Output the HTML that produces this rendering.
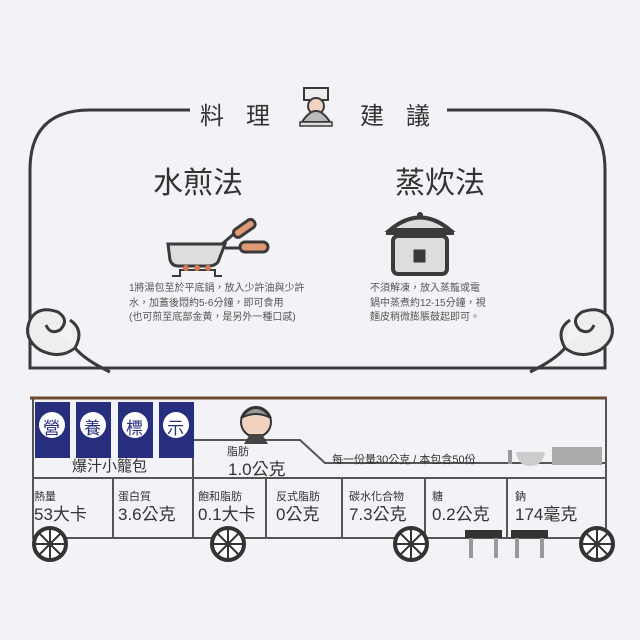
<!DOCTYPE html>
<html><head><meta charset="utf-8"><style>
body{margin:0;width:640px;height:640px;background:#f3f2f6;overflow:hidden;position:relative;font-family:"Liberation Sans","Noto Sans CJK TC",sans-serif;color:#333}
.t{position:absolute;white-space:nowrap}
</style></head><body>
<svg width="640" height="640" style="position:absolute;left:0;top:0">
<g fill="none" stroke="#3a3a3a" stroke-width="3">
<path d="M190 110 H90 Q30 110 30 170 V368 H605 V170 Q605 110 545 110 H447"/>
</g>
<!-- clouds -->
<g fill="#eee" stroke="#3a3a3a" stroke-width="3">
<path d="M110 372 Q85 360 75 348 Q60 360 40 350 Q22 338 30 320 Q38 305 58 312 Q70 320 60 330 Q50 335 46 325 M75 348 Q85 330 70 320"/>
<path d="M530 372 Q555 360 565 348 Q580 360 600 350 Q618 338 610 320 Q602 305 582 312 Q570 320 580 330 Q590 335 594 325 M565 348 Q555 330 570 320"/>
</g>
<!-- chef -->
<g><rect x="304" y="88" width="24" height="12" fill="#eee" stroke="#3a3a3a" stroke-width="2"/><circle cx="316" cy="106" r="8" fill="#f1d3c0" stroke="#3a3a3a" stroke-width="2"/><path d="M302 122 Q316 100 330 122Z" fill="#bbb" stroke="#3a3a3a" stroke-width="2"/><rect x="300" y="122" width="32" height="4" fill="#ddd" stroke="#3a3a3a" stroke-width="1.5"/></g>
<!-- pan -->
<g stroke="#3a3a3a" stroke-width="3"><path d="M168 244 H225 L218 262 Q215 266 208 266 H178 Q172 266 170 260Z" fill="#ddd"/>
<path d="M225 248 H240" /><rect x="240" y="242" width="28" height="10" rx="5" fill="#e19a73"/>
<path d="M222 244 L236 232"/><rect x="232" y="224" width="24" height="9" rx="4" fill="#e19a73" transform="rotate(-35 244 228)"/>
<path d="M172 276 H180 V270 H215 V276 H222" fill="none" stroke-width="2"/></g>
<circle cx="186" cy="268" r="3" fill="#d27a55"/><circle cx="197" cy="268" r="3" fill="#d27a55"/><circle cx="208" cy="268" r="3" fill="#d27a55"/>
<!-- cooker -->
<g stroke="#3a3a3a" stroke-width="4" fill="#ddd"><path d="M390 230 Q420 205 450 230Z"/><path d="M386 233 H454"/><rect x="393" y="236" width="54" height="38" rx="5"/><rect x="414" y="250" width="11" height="12" fill="#3a3a3a" stroke-width="1"/></g>
<circle cx="420" cy="215" r="3" fill="#3a3a3a"/>
<!-- bottom cart -->
<line x1="30" y1="398" x2="607" y2="398" stroke="#6b4a2e" stroke-width="3"/>
<g stroke="#555" stroke-width="2" fill="none">
<path d="M33 398 V538 H606 V398"/>
<path d="M193 405 V538"/>
<path d="M193 440 H300 L325 463 H606"/>
<path d="M33 478 H606"/>
<path d="M113 478 V538 M266 478 V538 M342 478 V538 M425 478 V538 M507 478 V538"/>
</g>
<g fill="#272e7d">
<rect x="35" y="402" width="35" height="56"/><rect x="76" y="402" width="35" height="56"/><rect x="118" y="402" width="35" height="56"/><rect x="159" y="402" width="35" height="56"/></g>
<g fill="#fff"><circle cx="52" cy="425" r="13"/><circle cx="93" cy="425" r="13"/><circle cx="135" cy="425" r="13"/><circle cx="176" cy="425" r="13"/></g>
<!-- person -->
<circle cx="256" cy="422" r="15" fill="#f1d3c0" stroke="#333" stroke-width="2"/><path d="M241 418 Q256 398 271 418 Q256 410 241 418Z" fill="#999" stroke="#333" stroke-width="2"/><path d="M244 444 L250 434 H262 L268 444Z" fill="#444"/>
<!-- bowls -->
<rect x="508" y="450" width="4" height="14" fill="#999"/><path d="M516 452 H545 Q543 466 530 466 Q518 466 516 452Z" fill="#ccc"/>
<rect x="552" y="447" width="50" height="18" fill="#aaa"/>
<!-- benches -->
<g fill="#333"><rect x="465" y="530" width="37" height="8"/><rect x="511" y="530" width="37" height="8"/></g>
<g fill="#999"><rect x="469" y="538" width="4" height="20"/><rect x="494" y="538" width="4" height="20"/><rect x="515" y="538" width="4" height="20"/><rect x="540" y="538" width="4" height="20"/></g>
<!-- wheels -->
<g stroke="#333" stroke-width="4" fill="#fff">
<circle cx="50" cy="544" r="16"/><circle cx="228" cy="544" r="16"/><circle cx="411" cy="544" r="16"/><circle cx="597" cy="544" r="16"/></g>
<g stroke="#333" stroke-width="2">
<path d="M36 544H64M50 530V558M40 534L60 554M60 534L40 554"/>
<path d="M214 544H242M228 530V558M218 534L238 554M238 534L218 554"/>
<path d="M397 544H425M411 530V558M401 534L421 554M421 534L401 554"/>
<path d="M583 544H611M597 530V558M587 534L607 554M607 534L587 554"/></g>
</svg>
<div class="t" style="left:200px;top:96px;font-size:24px;letter-spacing:22px">料理</div>
<div class="t" style="left:360px;top:96px;font-size:24px;letter-spacing:22px">建議</div>
<div class="t" style="left:153px;top:158px;font-size:30px">水煎法</div>
<div class="t" style="left:395px;top:158px;font-size:30px">蒸炊法</div>
<div class="t" style="left:129px;top:282px;font-size:10px;line-height:14.5px;color:#555">1將湯包至於平底鍋，放入少許油與少許<br>水，加蓋後悶約5-6分鐘，即可食用<br>(也可煎至底部金黃，是另外一種口感)</div>
<div class="t" style="left:370px;top:282px;font-size:10px;line-height:14.5px;color:#555">不須解凍，放入蒸籠或電<br>鍋中蒸煮約12-15分鐘，視<br>麵皮稍微膨脹鼓起即可。</div>
<div class="t" style="left:43px;top:414px;font-size:17px;color:#272e7d">營</div>
<div class="t" style="left:84px;top:414px;font-size:17px;color:#272e7d">養</div>
<div class="t" style="left:126px;top:414px;font-size:17px;color:#272e7d">標</div>
<div class="t" style="left:167px;top:414px;font-size:17px;color:#272e7d">示</div>
<div class="t" style="left:72px;top:455px;font-size:15px">爆汁小籠包</div>
<div class="t" style="left:227px;top:443px;font-size:11px">脂肪</div>
<div class="t" style="left:228px;top:455px;font-size:17px">1.0公克</div>
<div class="t" style="left:332px;top:451px;font-size:11px">每一份量30公克 / 本包含50份</div>
<div class="t" style="left:34px;top:488px;font-size:11px">熱量</div><div class="t" style="left:34px;top:500px;font-size:17px">53大卡</div>
<div class="t" style="left:118px;top:488px;font-size:11px">蛋白質</div><div class="t" style="left:118px;top:500px;font-size:17px">3.6公克</div>
<div class="t" style="left:198px;top:488px;font-size:11px">飽和脂肪</div><div class="t" style="left:198px;top:500px;font-size:17px">0.1大卡</div>
<div class="t" style="left:276px;top:488px;font-size:11px">反式脂肪</div><div class="t" style="left:276px;top:500px;font-size:17px">0公克</div>
<div class="t" style="left:349px;top:488px;font-size:11px">碳水化合物</div><div class="t" style="left:349px;top:500px;font-size:17px">7.3公克</div>
<div class="t" style="left:432px;top:488px;font-size:11px">糖</div><div class="t" style="left:432px;top:500px;font-size:17px">0.2公克</div>
<div class="t" style="left:515px;top:488px;font-size:11px">鈉</div><div class="t" style="left:515px;top:500px;font-size:17px">174毫克</div>
</body></html>
